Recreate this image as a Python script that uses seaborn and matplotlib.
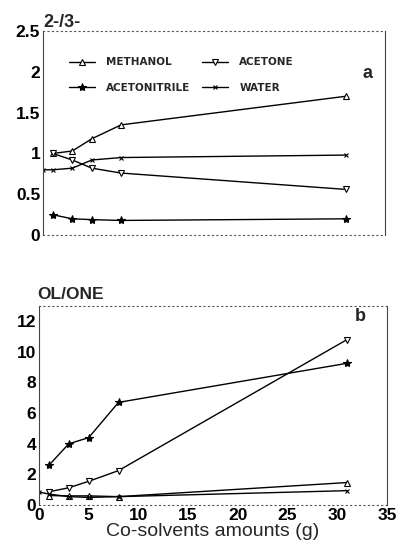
import matplotlib
matplotlib.use("Agg")
import matplotlib.pyplot as plt
import seaborn as sns
import pandas as pd

sns.set_theme(style="white")
plt.rcParams['font.family'] = ['Liberation Sans', 'DejaVu Sans']

# Panel a: 2-/3- ratio
x_main = [1, 3, 5, 8, 31]
x_water = [0, 1, 3, 5, 8, 31]
a_methanol = [1.0, 1.03, 1.18, 1.35, 1.70]
a_acetone = [1.0, 0.92, 0.82, 0.76, 0.56]
a_acetonitrile = [0.25, 0.20, 0.19, 0.18, 0.20]
a_water = [0.80, 0.80, 0.82, 0.92, 0.95, 0.98]

# Panel b: OL/ONE ratio
b_methanol = [0.62, 0.60, 0.60, 0.55, 1.47]
b_acetone = [0.87, 1.13, 1.55, 2.25, 10.8]
b_acetonitrile = [2.6, 4.0, 4.4, 6.7, 9.25]
b_water = [0.85, 0.72, 0.55, 0.50, 0.55, 0.94]

labels = ["METHANOL", "ACETONITRILE", "ACETONE", "WATER"]
xticks = [0, 5, 10, 15, 20, 25, 30, 35]

fig = plt.figure(figsize=(3.98, 5.52), dpi=100)
ax1 = fig.add_axes([0.108, 0.574, 0.859, 0.370])
ax2 = fig.add_axes([0.098, 0.085, 0.874, 0.361])

styles = {
    "METHANOL": dict(marker="^", markerfacecolor="white", markeredgecolor="black", markersize=4.5),
    "ACETONITRILE": dict(marker="*", markerfacecolor="black", markeredgecolor="black", markersize=6),
    "ACETONE": dict(marker="v", markerfacecolor="white", markeredgecolor="black", markersize=4.5),
    "WATER": dict(marker="x", markerfacecolor="black", markeredgecolor="black", markersize=3),
}

def draw(ax, series):
    for name, (xs, ys) in series.items():
        sns.lineplot(x=xs, y=ys, ax=ax, color="black", linewidth=1.0,
                     label=name, markeredgewidth=0.8, **styles[name])

draw(ax1, {"METHANOL": (x_main, a_methanol), "ACETONITRILE": (x_main, a_acetonitrile),
           "ACETONE": (x_main, a_acetone), "WATER": (x_water, a_water)})
draw(ax2, {"METHANOL": (x_main, b_methanol), "ACETONITRILE": (x_main, b_acetonitrile),
           "ACETONE": (x_main, b_acetone), "WATER": (x_water, b_water)})

for ax in (ax1, ax2):
    ax.set_xlim(0, 35)
    for side in ("top", "bottom"):
        ax.spines[side].set_linestyle((0, (1, 3)))
        ax.spines[side].set_color("#555555")
        ax.spines[side].set_linewidth(0.8)
    for side in ("left", "right"):
        ax.spines[side].set_color("#444444")
        ax.spines[side].set_linewidth(0.8)
    ax.tick_params(axis="both", direction="in", length=2, width=0.6, colors="black",
                   labelsize=12.5, pad=2)
    ax.set_xticks(xticks)

ax1.set_ylim(0, 2.5)
ax1.set_yticks([0, 0.5, 1, 1.5, 2, 2.5])
ax1.set_yticklabels(["0", "0.5", "1", "1.5", "2", "2.5"])
ax1.set_xticklabels([])
ax1.text(0.0, 1.0, "2-/3-", transform=ax1.transAxes, fontsize=13, va="bottom", ha="left",
         weight="bold")
ax1.text(0.965, 0.79, "a", transform=ax1.transAxes, fontsize=13, ha="right", va="center",
         weight="bold")
leg = ax1.legend(ncol=2, frameon=False, loc="upper left", bbox_to_anchor=(0.075, 0.87),
                 borderpad=0, borderaxespad=0, handlelength=2.5, handletextpad=1.1,
                 columnspacing=1.1, labelspacing=1.5,
                 prop={"weight": "bold", "size": 7.5, "family": "DejaVu Sans"})

ax2.set_ylim(0, 13)
ax2.set_yticks([0, 2, 4, 6, 8, 10, 12])
ax2.set_xticklabels([str(t) for t in xticks])
ax2.set_xlabel("Co-solvents amounts (g)", fontsize=14, labelpad=0)
ax2.text(-0.005, 1.02, "OL/ONE", transform=ax2.transAxes, fontsize=12.5, va="bottom", ha="left",
         weight="bold")
ax2.text(0.94, 0.945, "b", transform=ax2.transAxes, fontsize=13, ha="right", va="center",
         weight="bold")
ax2.get_legend().remove()

for ax in (ax1, ax2):
    for lab in ax.get_xticklabels() + ax.get_yticklabels():
        lab.set_fontweight("bold")

fig.savefig("out.png", dpi=100)
